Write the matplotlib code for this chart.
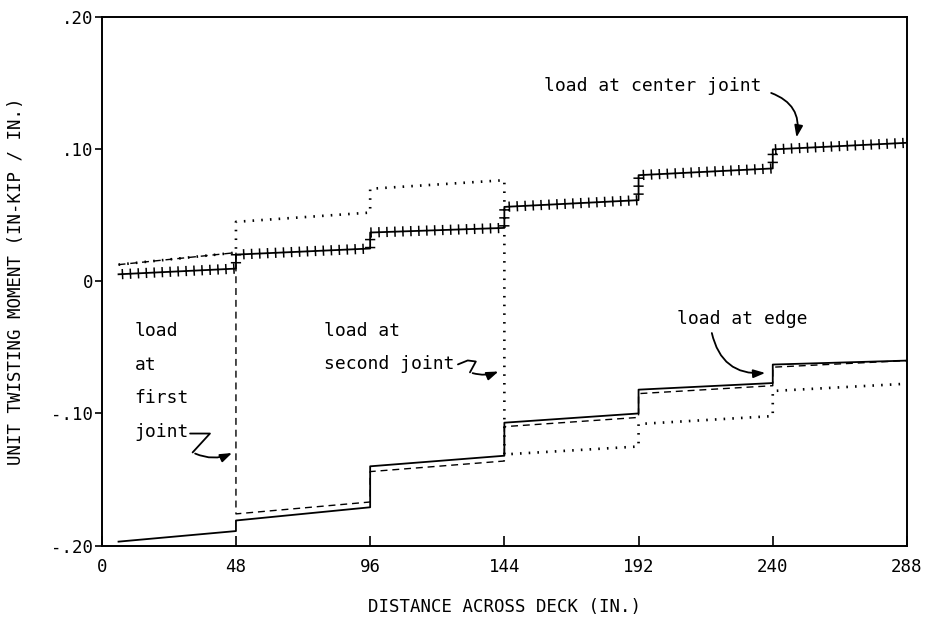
import numpy as np
import matplotlib
matplotlib.use('Agg')
import matplotlib.pyplot as plt
from matplotlib import patheffects

# strip boundaries across the deck (in.)
strip_edges = [6, 48, 96, 144, 192, 240, 288]

# unit twisting moment at the start / end of each strip (in-kip / in.)
edge_start = [-0.197, -0.181, -0.140, -0.107, -0.082, -0.063]
edge_end = [-0.189, -0.171, -0.132, -0.100, -0.077, -0.060]

first_start = [0.0126, -0.176, -0.144, -0.110, -0.085, -0.065]
first_end = [0.0217, -0.167, -0.136, -0.103, -0.079, -0.060]

second_start = [0.0126, 0.045, 0.070, -0.131, -0.108, -0.083]
second_end = [0.0217, 0.052, 0.0765, -0.125, -0.102, -0.0775]

center_start = [0.0053, 0.0202, 0.0369, 0.0563, 0.0803, 0.0998]
center_end = [0.0096, 0.0248, 0.0404, 0.0614, 0.0854, 0.1048]

x_ticks = [0, 48, 96, 144, 192, 240, 288]
y_ticks = [-0.20, -0.10, 0, 0.10, 0.20]
y_ticklabels = ['-.20', '-.10', '0', '.10', '.20']


def step_path(starts, ends):
    xs, ys = [], []
    for i in range(len(starts)):
        xs += [strip_edges[i], strip_edges[i + 1]]
        ys += [starts[i], ends[i]]
    return xs, ys


mono = 'DejaVu Sans Mono'
fig = plt.figure(figsize=(9.25, 6.2), dpi=100)
ax = fig.add_axes([0.110, 0.120, 0.8705, 0.8526])

lw = 1.3
x, y = step_path(edge_start, edge_end)
ax.plot(x, y, color='black', lw=lw, ls='-')
x, y = step_path(first_start, first_end)
ax.plot(x, y, color='black', lw=1.0, ls=(0, (5, 3.5)))
x, y = step_path(second_start, second_end)
ax.plot(x, y, color='black', lw=1.9, ls=(0, (0.6, 2.7)))

# center joint line drawn with "+" crossings along its length
x, y = step_path(center_start, center_end)
ax.plot(x, y, color='black', lw=lw,
        path_effects=[patheffects.Normal(),
                      patheffects.TickedStroke(spacing=5.7, angle=90, length=0.55, linewidth=1.1),
                      patheffects.TickedStroke(spacing=5.7, angle=-90, length=0.55, linewidth=1.1)])

ax.set_xlim(0, 288)
ax.set_ylim(-0.20, 0.20)
ax.set_xticks(x_ticks)
ax.set_xticklabels([str(t) for t in x_ticks], fontsize=12.5, family=mono)
ax.set_yticks(y_ticks)
ax.set_yticklabels(y_ticklabels, fontsize=12.5, family=mono)
ax.tick_params(axis='x', direction='in', length=7, width=1.2, pad=9)
ax.tick_params(axis='y', direction='out', length=5, width=1.2, pad=1)
for s in ax.spines.values():
    s.set_linewidth(1.4)

ax.set_xlabel('DISTANCE ACROSS DECK (IN.)', fontsize=12.5, family=mono, labelpad=16)
ax.set_ylabel('UNIT TWISTING MOMENT (IN-KIP / IN.)', fontsize=12.5, family=mono, labelpad=19)

# annotations
txt = dict(fontsize=13, family=mono, color='black')
arrow = dict(arrowstyle='-|>,head_length=0.7,head_width=0.25', color='black', lw=1.3)

ax.text(158.3, 0.148, 'load at center joint', va='center', ha='left', **txt)
ax.annotate('', xy=(248.3, 0.1068), xytext=(238.5, 0.1432),
            arrowprops=dict(connectionstyle='arc3,rad=-0.45', **arrow))

ax.text(205.6, -0.0288, 'load at edge', va='center', ha='left', **txt)
ax.annotate('', xy=(238.3, -0.0692), xytext=(218.0, -0.0371),
            arrowprops=dict(connectionstyle='arc3,rad=0.45', **arrow))

ax.text(79.4, -0.0376, 'load at', va='center', ha='left', **txt)
ax.text(79.4, -0.0624, 'second joint', va='center', ha='left', **txt)
ax.plot([127.4, 130.9, 133.8, 131.7], [-0.0629, -0.0599, -0.0607, -0.0689],
        color='black', lw=1.3, solid_capstyle='round')
ax.annotate('', xy=(142.8, -0.0674), xytext=(131.7, -0.0689),
            arrowprops=dict(connectionstyle='arc3,rad=0.2', **arrow))

for label, yy in zip(['load', 'at', 'first', 'joint'], [-0.0376, -0.063, -0.0886, -0.1140]):
    ax.text(11.8, yy, label, va='center', ha='left', **txt)
ax.plot([31.6, 38.7, 32.5], [-0.1152, -0.1152, -0.1295],
        color='black', lw=1.3, solid_capstyle='round')
ax.annotate('', xy=(47.5, -0.1290), xytext=(32.5, -0.1295),
            arrowprops=dict(connectionstyle='arc3,rad=0.25', **arrow))

plt.savefig('out.png', dpi=100)
